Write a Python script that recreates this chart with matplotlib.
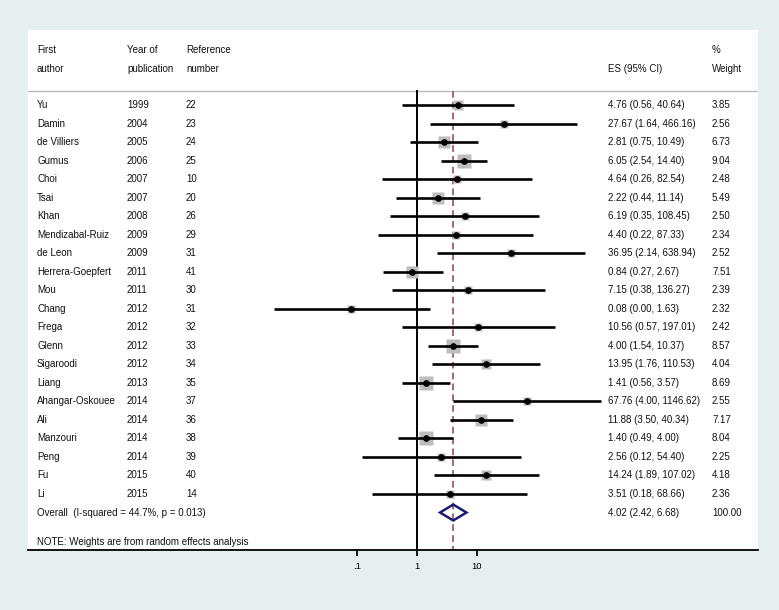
import numpy as np
import matplotlib
matplotlib.use("Agg")
import matplotlib.pyplot as plt
from matplotlib.patches import Polygon
import matplotlib.transforms as mtransforms

authors = ["Yu", "Damin", "de Villiers", "Gumus", "Choi", "Tsai", "Khan", "Mendizabal-Ruiz",
           "de Leon", "Herrera-Goepfert", "Mou", "Chang", "Frega", "Glenn", "Sigaroodi", "Liang",
           "Ahangar-Oskouee", "Ali", "Manzouri", "Peng", "Fu", "Li"]
years = ["1999", "2004", "2005", "2006", "2007", "2007", "2008", "2009", "2009", "2011", "2011",
         "2012", "2012", "2012", "2012", "2013", "2014", "2014", "2014", "2014", "2015", "2015"]
refs = ["22", "23", "24", "25", "10", "20", "26", "29", "31", "41", "30", "31", "32", "33", "34",
        "35", "37", "36", "38", "39", "40", "14"]
es = [4.76, 27.67, 2.81, 6.05, 4.64, 2.22, 6.19, 4.40, 36.95, 0.84, 7.15, 0.08, 10.56, 4.00,
      13.95, 1.41, 67.76, 11.88, 1.40, 2.56, 14.24, 3.51]
lo = [0.56, 1.64, 0.75, 2.54, 0.26, 0.44, 0.35, 0.22, 2.14, 0.27, 0.38, 0.0041, 0.57, 1.54,
      1.76, 0.56, 4.00, 3.50, 0.49, 0.12, 1.89, 0.18]
lo_txt = ["0.56", "1.64", "0.75", "2.54", "0.26", "0.44", "0.35", "0.22", "2.14", "0.27", "0.38",
          "0.00", "0.57", "1.54", "1.76", "0.56", "4.00", "3.50", "0.49", "0.12", "1.89", "0.18"]
hi = [40.64, 466.16, 10.49, 14.40, 82.54, 11.14, 108.45, 87.33, 638.94, 2.67, 136.27, 1.63,
      197.01, 10.37, 110.53, 3.57, 1146.62, 40.34, 4.00, 54.40, 107.02, 68.66]
weights = [3.85, 2.56, 6.73, 9.04, 2.48, 5.49, 2.50, 2.34, 2.52, 7.51, 2.39, 2.32, 2.42, 8.57,
           4.04, 8.69, 2.55, 7.17, 8.04, 2.25, 4.18, 2.36]
overall_es, overall_lo, overall_hi = 4.02, 2.42, 6.68
overall_weight = "100.00"
overall_label = "Overall  (I-squared = 44.7%, p = 0.013)"
note = "NOTE: Weights are from random effects analysis"
xticks = [0.1, 1, 10]
xticklabels = [".1", "1", "10"]

W, H = 779, 610
fig = plt.figure(figsize=(W / 100, H / 100), dpi=100)
fig.patch.set_facecolor("#e6efef")

left_px, right_px, top_px, bot_px = 28, 758, 30, 550
ax = fig.add_axes([left_px / W, 1 - bot_px / H, (right_px - left_px) / W, (bot_px - top_px) / H])
ax.set_facecolor("white")
ax.set_xscale("log")
ppd = 60.0
x1 = 417
ax.set_xlim(10 ** ((left_px - x1) / ppd), 10 ** ((right_px - x1) / ppd))
row_step = (494 - 105) / 21
row0 = 105
def px2row(p):
    return (p - row0) / row_step
ax.set_ylim(px2row(bot_px), px2row(top_px))

for s in ["top", "left", "right"]:
    ax.spines[s].set_visible(False)
ax.spines["bottom"].set_linewidth(1.3)
ax.set_yticks([])
ax.set_xticks(xticks)
ax.set_xticklabels(xticklabels)
ax.minorticks_off()
ax.tick_params(axis="x", direction="out", length=4.5, width=1.3, labelsize=6.8, pad=4)
for lab in ax.get_xticklabels():
    lab.set_fontfamily("Liberation Sans")

fam = "Liberation Sans"
fs = 7
n = len(authors)
rows = np.arange(n)
header_line = px2row(91)

# vertical lines
ax.plot([1, 1], [header_line, px2row(bot_px)], color="black", lw=1.4, zorder=2)
ax.plot([overall_es, overall_es], [header_line, px2row(bot_px)], color="#9a4b5b", lw=1.2,
        dashes=(4, 2.5), zorder=2)
# header separator
ax.axhline(header_line, color="#bbbbbb", lw=1.0, zorder=1)

# squares, CIs, dots
for i in range(n):
    side = 3.4 * np.sqrt(weights[i])  # points
    ax.plot([es[i]], [rows[i]], marker="s", ms=side, color="#bdbdbd", mec="none", zorder=3)
    ax.plot([lo[i], hi[i]], [rows[i], rows[i]], color="black", lw=1.9, zorder=4,
            solid_capstyle="butt")
    ax.plot([es[i]], [rows[i]], marker="o", ms=3.8, color="black", zorder=5)

# overall diamond
yo = n
dh = 0.43
diamond = Polygon([[overall_lo, yo], [overall_es, yo - dh], [overall_hi, yo], [overall_es, yo + dh]],
                  closed=True, fill=False, edgecolor="#1b1b72", lw=1.8, zorder=6)
ax.add_patch(diamond)

# text columns
tr = mtransforms.blended_transform_factory(fig.transFigure, ax.transData)
def col(px):
    return px / W
cx_auth, cx_year, cx_ref, cx_es, cx_w = col(37), col(127), col(186), col(608), col(712)
kw = dict(transform=tr, fontsize=fs, family=fam, va="center", ha="left", color="#111111")
ax.text(cx_auth, px2row(50), "First", **kw)
ax.text(cx_auth, px2row(69), "author", **kw)
ax.text(cx_year, px2row(50), "Year of", **kw)
ax.text(cx_year, px2row(69), "publication", **kw)
ax.text(cx_ref, px2row(50), "Reference", **kw)
ax.text(cx_ref, px2row(69), "number", **kw)
ax.text(cx_w, px2row(50), "%", **kw)
ax.text(cx_es, px2row(69), "ES (95% CI)", **kw)
ax.text(cx_w, px2row(69), "Weight", **kw)

for i in range(n):
    ax.text(cx_auth, rows[i], authors[i], **kw)
    ax.text(cx_year, rows[i], years[i], **kw)
    ax.text(cx_ref, rows[i], refs[i], **kw)
    ax.text(cx_es, rows[i], f"{es[i]:.2f} ({lo_txt[i]}, {hi[i]:.2f})", **kw)
    ax.text(cx_w, rows[i], f"{weights[i]:.2f}", **kw)
ax.text(cx_auth, yo, overall_label, **kw)
ax.text(cx_es, yo, f"{overall_es:.2f} ({overall_lo:.2f}, {overall_hi:.2f})", **kw)
ax.text(cx_w, yo, overall_weight, **kw)
ax.text(cx_auth, px2row(542), note, **kw)

fig.savefig("out.png", dpi=100, facecolor=fig.get_facecolor())
